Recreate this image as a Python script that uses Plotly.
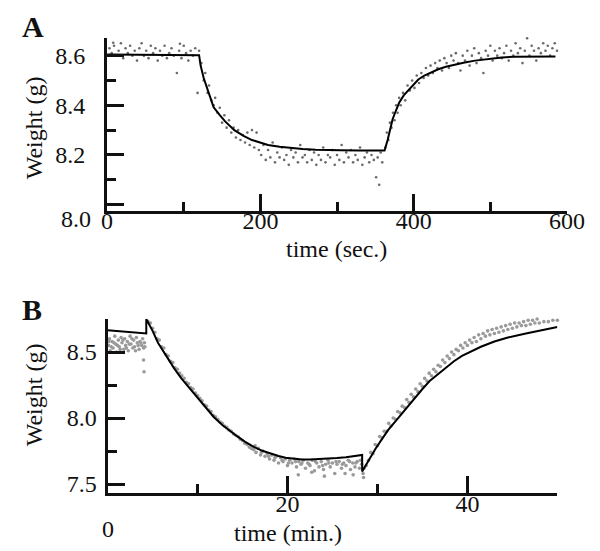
import plotly.graph_objects as go

# ---------------- Panel A (time in seconds) ----------------
a_fit_t = [0, 120, 122, 126, 131, 135, 139, 147, 154, 166, 178, 189, 200, 210, 225, 239, 255, 272,
           290, 304, 330, 362, 366, 369, 372.5, 377, 381, 387, 394, 400, 406, 414, 422, 432, 442,
           454, 465, 480, 501, 515, 531, 550, 570, 585]
a_fit_w = [8.605, 8.602, 8.56, 8.51, 8.464, 8.43, 8.392, 8.36, 8.335, 8.30, 8.277, 8.26, 8.249, 8.24,
           8.233, 8.228, 8.224, 8.221, 8.219, 8.219, 8.218, 8.218, 8.26, 8.30, 8.344, 8.38, 8.41, 8.44,
           8.464, 8.485, 8.504, 8.52, 8.532, 8.545, 8.555, 8.564, 8.571, 8.58, 8.589, 8.593, 8.596,
           8.597, 8.597, 8.597]

a_obs_t = [3, 6, 8, 9, 12, 15, 18, 21, 24, 27, 30, 33, 36, 39, 42, 45, 48, 51, 54, 57, 60, 63, 66, 69,
           72, 75, 78, 81, 84, 87, 91, 94, 95, 97, 100, 103, 106, 109, 112, 115, 118, 120,
           123, 126, 128, 131, 133, 136, 139, 141, 144, 147, 150, 153, 156, 159, 162, 165, 168, 171,
           174, 177, 180, 183, 186, 189, 192, 195, 198,
           201, 204, 207, 210, 213, 216, 219, 222, 225, 228, 231, 234, 237, 240, 243, 246, 249, 252,
           255, 258, 261, 264, 267, 270, 273, 276, 279, 282, 285, 288, 291, 294, 297, 300, 303, 306,
           309, 312, 315, 318, 321, 324, 327, 330, 333, 336, 339, 342, 345, 348, 351, 353, 355, 357, 359,
           363, 365, 367, 369, 371, 373, 375, 377, 379, 381, 383, 386, 389, 392, 395, 398, 401, 404,
           407, 410, 413, 416, 419, 422, 425, 428, 431, 434, 437, 440, 443, 446, 449, 452,
           455, 458, 461, 464, 467, 470, 473, 476, 479, 482, 485, 488, 491, 494, 497, 500, 503, 506,
           509, 512, 515, 518, 521, 524, 527, 530, 533, 536, 539, 542, 545, 548, 551, 554, 557, 560,
           563, 566, 569, 572, 575, 578, 581, 584, 587]
a_obs_w = [8.63, 8.61, 8.652, 8.64, 8.60, 8.62, 8.65, 8.59, 8.63, 8.61, 8.64, 8.60, 8.62, 8.58, 8.63,
           8.65, 8.60, 8.62, 8.59, 8.64, 8.61, 8.63, 8.58, 8.62, 8.60, 8.64, 8.59, 8.61, 8.63, 8.60,
           8.53, 8.62, 8.648, 8.59, 8.64, 8.61, 8.58, 8.62, 8.60, 8.63, 8.45, 8.62,
           8.57, 8.50, 8.53, 8.45, 8.48, 8.42, 8.40, 8.43, 8.37, 8.39, 8.33, 8.36, 8.31, 8.34, 8.29,
           8.31, 8.27, 8.30, 8.26, 8.28, 8.25, 8.29, 8.24, 8.30, 8.23, 8.29, 8.22,
           8.20, 8.24, 8.18, 8.22, 8.19, 8.25, 8.17, 8.21, 8.19, 8.23, 8.18, 8.20, 8.16, 8.22, 8.19,
           8.21, 8.17, 8.24, 8.19, 8.20, 8.17, 8.22, 8.18, 8.21, 8.16, 8.20, 8.18, 8.23, 8.17, 8.20,
           8.19, 8.22, 8.16, 8.20, 8.18, 8.24, 8.17, 8.21, 8.19, 8.22, 8.17, 8.20, 8.18, 8.23, 8.16,
           8.19, 8.21, 8.17, 8.20, 8.18, 8.11, 8.19, 8.08, 8.21, 8.17,
           8.23, 8.29, 8.26, 8.33, 8.31, 8.37, 8.34, 8.40, 8.37, 8.43, 8.40, 8.45, 8.42, 8.48, 8.46,
           8.50, 8.47, 8.52, 8.49, 8.53, 8.51, 8.55, 8.52, 8.56, 8.53, 8.57, 8.55, 8.58, 8.54, 8.59,
           8.57, 8.55, 8.60, 8.58,
           8.61, 8.57, 8.54, 8.60, 8.58, 8.62, 8.56, 8.60, 8.63, 8.57, 8.61, 8.59, 8.53, 8.62, 8.60,
           8.64, 8.58, 8.62, 8.60, 8.63, 8.59, 8.61, 8.64, 8.58, 8.62, 8.60, 8.65, 8.61, 8.63, 8.57,
           8.62, 8.67, 8.60, 8.64, 8.62, 8.58, 8.63, 8.61, 8.65, 8.62, 8.64, 8.60, 8.63, 8.65, 8.62]

a_x_ticks = [0, 200, 400, 600]
a_x_labels = ["0", "200", "400", "600"]
a_y_ticks = [8.0, 8.2, 8.4, 8.6]
a_y_labels = ["", "8.2", "8.4", "8.6"]

# ---------------- Panel B (time in minutes) ----------------
b_fit_t = [0, 4.3, 4.3, 5.0, 5.6, 6.5, 7.4, 8.2, 9.1, 10.0, 10.9, 11.8, 12.75, 13.6, 14.5, 15.4, 16.3,
           17.2, 18.1, 19.0, 19.8, 20.7, 21.6, 22.5, 23.4, 24.5, 25.5, 26.5, 27.5, 28.3, 28.3, 29.0,
           29.8, 30.5, 31.2, 32.3, 33.4, 34.1, 35.0, 35.8, 36.7, 37.6, 38.5, 39.4, 40.5, 41.5, 43.0,
           44.5, 46.5, 48.0, 50.0]
b_fit_w = [8.665, 8.64, 8.75, 8.66, 8.57, 8.47, 8.376, 8.30, 8.226, 8.148, 8.075, 8.008, 7.947, 7.90,
           7.857, 7.815, 7.78, 7.752, 7.73, 7.713, 7.70, 7.692, 7.687, 7.686, 7.688, 7.692, 7.697,
           7.703, 7.71, 7.72, 7.596, 7.68, 7.77, 7.84, 7.91, 8.00, 8.09, 8.15, 8.22, 8.28, 8.33, 8.38,
           8.43, 8.47, 8.51, 8.54, 8.58, 8.61, 8.64, 8.66, 8.69]

b_obs_t = [0.1, 0.2, 0.3, 0.5, 0.6, 0.8, 0.9, 1.0, 1.2, 1.3, 1.5, 1.6, 1.8, 1.9, 2.0, 2.2, 2.3, 2.5,
           2.6, 2.8, 2.9, 3.0, 3.2, 3.3, 3.5, 3.6, 3.8, 3.9, 4.0, 4.1, 4.0, 4.05,
           0.15, 0.4, 0.7, 1.1, 1.4, 1.7, 2.1, 2.4, 2.7, 3.1, 3.4, 3.7, 4.15,
           4.5, 4.75, 5.0, 5.25, 5.5, 5.75, 6.0, 6.25, 6.5, 6.75, 7.0, 7.25, 7.5, 7.75, 8.0, 8.25,
           8.5, 8.75, 9.0, 9.25, 9.5, 9.75, 10.0, 10.25, 10.5, 10.75, 11.0, 11.25, 11.5, 11.75, 12.0,
           12.25, 12.5, 12.75, 13.0, 13.25, 13.5, 13.75, 14.0, 14.25, 14.5, 14.75, 15.0, 15.25, 15.5,
           15.75, 16.0,
           16.25, 16.5, 16.75, 17.0, 17.25, 17.5, 17.75, 18.0, 18.25, 18.5, 18.75, 19.0, 19.25, 19.5,
           19.75, 20.0, 20.25, 20.5, 20.75, 21.0, 21.25, 21.5, 21.75, 22.0, 22.25, 22.5, 22.75, 23.0,
           23.25, 23.5, 23.75, 24.0, 24.25, 24.5, 24.75, 25.0, 25.25, 25.5, 25.75, 26.0, 26.25, 26.5,
           26.75, 27.0, 27.25, 27.5, 27.75, 28.0, 28.25,
           16.4, 17.1, 17.9, 18.6, 19.4, 20.1, 20.9, 21.6, 22.4, 23.1, 23.9, 24.6, 25.4, 26.1, 26.9,
           27.6, 28.1, 21.2, 24.1, 22.7, 26.4, 27.3,
           28.4, 28.45, 28.5, 28.75, 29.0, 29.25, 29.5, 29.75, 30.0, 30.25, 30.5, 30.75, 31.0, 31.25,
           31.5, 31.75, 32.0, 32.25, 32.5, 32.75, 33.0, 33.25, 33.5, 33.75, 34.0, 34.25, 34.5, 34.75,
           35.0, 35.25, 35.5, 35.75, 36.0, 36.25, 36.5, 36.75, 37.0, 37.25, 37.5, 37.75, 38.0, 38.25,
           38.5, 38.75, 39.0, 39.25, 39.5, 39.75, 40.0, 40.25, 40.5, 40.75, 41.0, 41.25, 41.5, 41.75,
           42.0, 42.25, 42.5, 42.75, 43.0, 43.25, 43.5, 43.75, 44.0, 44.25, 44.5, 44.75, 45.0, 45.25,
           45.5, 45.75, 46.0, 46.25, 46.5, 46.75, 47.0, 47.25, 47.5, 47.75, 48.0, 48.25, 48.5, 48.75,
           49.0, 49.25, 49.5, 49.75, 50.0]
b_obs_w = [8.55, 8.60, 8.51, 8.58, 8.53, 8.62, 8.56, 8.50, 8.59, 8.54, 8.61, 8.57, 8.52, 8.60, 8.55,
           8.58, 8.51, 8.62, 8.56, 8.53, 8.59, 8.54, 8.61, 8.57, 8.52, 8.58, 8.55, 8.60, 8.53, 8.57,
           8.44, 8.35,
           8.58, 8.54, 8.57, 8.55, 8.52, 8.59, 8.53, 8.56, 8.60, 8.51, 8.55, 8.57, 8.54,
           8.73, 8.72, 8.68, 8.65, 8.60, 8.59, 8.54, 8.53, 8.48, 8.47, 8.43, 8.42, 8.38, 8.37, 8.34,
           8.32, 8.30, 8.27, 8.26, 8.23, 8.22, 8.19, 8.17, 8.15, 8.13, 8.10, 8.09, 8.06, 8.05, 8.02,
           8.01, 7.99, 7.97, 7.96, 7.94, 7.93, 7.91, 7.90, 7.88, 7.87, 7.86, 7.84, 7.83, 7.81, 7.80,
           7.78, 7.77,
           7.76, 7.74, 7.77, 7.72, 7.75, 7.71, 7.73, 7.69, 7.72, 7.68, 7.71, 7.66, 7.70, 7.67, 7.69,
           7.64, 7.68, 7.66, 7.69, 7.63, 7.67, 7.65, 7.68, 7.62, 7.66, 7.64, 7.68, 7.60, 7.66, 7.63,
           7.67, 7.61, 7.65, 7.68, 7.63, 7.66, 7.58, 7.65, 7.67, 7.62, 7.66, 7.64, 7.68, 7.61, 7.66,
           7.63, 7.67, 7.62, 7.65,
           7.79, 7.74, 7.71, 7.70, 7.68, 7.66, 7.67, 7.66, 7.65, 7.67, 7.64, 7.66, 7.67, 7.65, 7.67,
           7.66, 7.68, 7.57, 7.56, 7.59, 7.58, 7.57,
           7.58, 7.55, 7.62, 7.64, 7.68, 7.74, 7.73, 7.80, 7.79, 7.86, 7.85, 7.90, 7.90, 7.96, 7.94,
           8.00, 7.99, 8.05, 8.04, 8.09, 8.08, 8.14, 8.12, 8.18, 8.16, 8.22, 8.20, 8.26, 8.24, 8.30,
           8.28, 8.34, 8.32, 8.37, 8.35, 8.40, 8.39, 8.44, 8.42, 8.47, 8.45, 8.50, 8.48, 8.52, 8.51,
           8.55, 8.53, 8.57, 8.55, 8.59, 8.57, 8.61, 8.58, 8.63, 8.60, 8.64, 8.62, 8.66, 8.63, 8.67,
           8.64, 8.68, 8.65, 8.69, 8.66, 8.70, 8.67, 8.71, 8.68, 8.72, 8.69, 8.72, 8.70, 8.73, 8.70,
           8.74, 8.71, 8.74, 8.72, 8.75, 8.72, 8.76, 8.73, 8.76, 8.73, 8.77, 8.74, 8.78, 8.74]

b_x_ticks = [0, 20, 40]
b_x_labels = ["", "20", "40"]
b_y_ticks = [7.5, 8.0, 8.5]
b_y_labels = ["7.5", "8.0", "8.5"]

W, H = 600, 551
SERIF = "Liberation Serif, Times New Roman, serif"
INK = "#111111"

fig = go.Figure()
fig.add_trace(go.Scatter(x=a_obs_t, y=a_obs_w, mode="markers", xaxis="x", yaxis="y",
                         marker=dict(size=2.6, color="#6a6a6a"), cliponaxis=False, showlegend=False))
fig.add_trace(go.Scatter(x=a_fit_t, y=a_fit_w, mode="lines", xaxis="x", yaxis="y",
                         line=dict(color="black", width=2), cliponaxis=False, showlegend=False))
fig.add_trace(go.Scatter(x=b_obs_t, y=b_obs_w, mode="markers", xaxis="x2", yaxis="y2",
                         marker=dict(size=3.6, color="#9a9a9a"), cliponaxis=False, showlegend=False))
fig.add_trace(go.Scatter(x=b_fit_t, y=b_fit_w, mode="lines", xaxis="x2", yaxis="y2",
                         line=dict(color="black", width=2), cliponaxis=False, showlegend=False))

axis_common = dict(showline=True, linecolor=INK, linewidth=3, showgrid=False, zeroline=False,
                   ticks="inside", tickcolor=INK, tickwidth=2.5, ticklen=17,
                   tickfont=dict(family=SERIF, size=24, color=INK))

fig.update_layout(
    width=W, height=H, margin=dict(l=0, r=0, t=0, b=0),
    paper_bgcolor="white", plot_bgcolor="white",
    xaxis=dict(domain=[97 / W, 576 / W], range=[0, 600], anchor="y",
               tickmode="array", tickvals=a_x_ticks, ticktext=a_x_labels, ticklabelstandoff=-13,
               minor=dict(ticks="inside", ticklen=9, tickwidth=2.5, tickcolor=INK, dtick=100, tick0=0),
               **axis_common),
    yaxis=dict(domain=[1 - 204 / H, 1 - 30.5 / H], range=[7.976, 8.67], anchor="x",
               tickmode="array", tickvals=a_y_ticks, ticktext=a_y_labels, ticklabelstandoff=14,
               minor=dict(ticks="inside", ticklen=9, tickwidth=2.5, tickcolor=INK, dtick=0.1, tick0=8.0),
               **axis_common),
    xaxis2=dict(domain=[97.5 / W, 566 / W], range=[0, 50], anchor="y2",
                tickmode="array", tickvals=b_x_ticks, ticktext=b_x_labels, ticklabelstandoff=-13,
                minor=dict(ticks="inside", ticklen=9, tickwidth=2.5, tickcolor=INK, dtick=10, tick0=0),
                **axis_common),
    yaxis2=dict(domain=[1 - 489 / H, 1 - 313 / H], range=[7.429, 8.752], anchor="x2",
                tickmode="array", tickvals=b_y_ticks, ticktext=b_y_labels, ticklabelstandoff=3,
                minor=dict(ticks="inside", ticklen=9, tickwidth=2.5, tickcolor=INK, dtick=0.25, tick0=7.5),
                **axis_common),
)

def note(text, x, y, size=24, bold=False, angle=0, xref="paper"):
    fig.add_annotation(text=f"<b>{text}</b>" if bold else text, x=x, y=y, xref=xref, yref="paper",
                       showarrow=False, xanchor="center", yanchor="middle", textangle=angle,
                       font=dict(family=SERIF, size=size, color=INK))

note("A", 20 / W, 1 - 19 / H, size=30, bold=True)
note("B", 19 / W, 1 - 304 / H, size=30, bold=True)
note("time (sec.)", 336 / W, 1 - 243 / H)
note("time (min.)", 285 / W, 1 - 529 / H)
note("Weight (g)", 21 / W, 1 - 121 / H, angle=-90)
note("Weight (g)", 21 / W, 1 - 390 / H, angle=-90)
note("8.0", 65 / W, 1 - 213 / H)
note("0", 0, 1 - 525 / H, xref="x2")

fig.write_html("out.html")
